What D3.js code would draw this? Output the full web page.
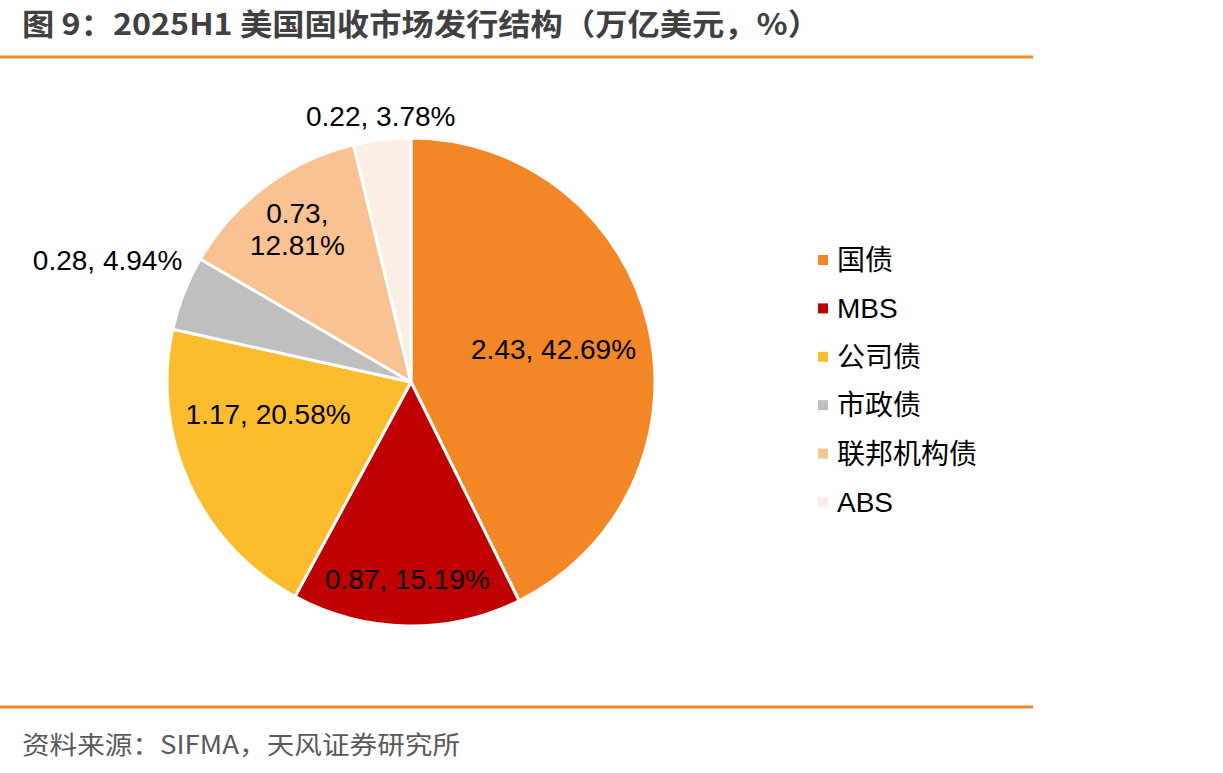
<!DOCTYPE html>
<html>
<head>
<meta charset="utf-8">
<script src="https://cdn.jsdelivr.net/npm/d3@7"></script>
<style>
  body { margin: 0; background: #fff; }
  svg { display: block; }
</style>
</head>
<body>
<div id="chart"></div>
<script>
// data
const categories = ["国债", "MBS", "公司债", "市政债", "联邦机构债", "ABS"];
const amounts = [2.43, 0.87, 1.17, 0.28, 0.73, 0.22];   // 万亿美元
const shares = [42.69, 15.19, 20.58, 4.94, 12.81, 3.78]; // %
const colors = ["#F38625", "#C00000", "#FBBC2D", "#BFBFBF", "#F8C293", "#FDEEE5"];

// label placement: radius as fraction of pie radius, angle shift (deg)
const labelRadius = [0.6, 0.81, 0.6, 1.34, 0.78, 1.095];
const labelShift = [0, 0, 12, 0.5, 0, 0.3];

const width = 1223, height = 773;
const svg = d3.select("#chart").append("svg")
  .attr("width", width).attr("height", height);

// title + rules
svg.append("text")
  .attr("x", 22).attr("y", 35)
  .attr("font-family", "Noto Sans CJK SC")
  .attr("font-weight", "bold")
  .attr("font-size", 30)
  .attr("fill", "#404040")
  .attr("textLength", 798)
  .attr("lengthAdjust", "spacingAndGlyphs")
  .text("图 9：2025H1 美国固收市场发行结构（万亿美元，%）");

[57, 707].forEach(y => {
  svg.append("line")
    .attr("x1", 0).attr("x2", 1033).attr("y1", y).attr("y2", y)
    .attr("stroke", "#F38625").attr("stroke-width", 3);
});

svg.append("text")
  .attr("x", 22).attr("y", 754)
  .attr("font-family", "Noto Sans CJK SC")
  .attr("font-size", 25)
  .attr("fill", "#595959")
  .attr("textLength", 438)
  .attr("lengthAdjust", "spacingAndGlyphs")
  .text("资料来源：SIFMA，天风证券研究所");

// pie
const cx = 411, cy = 382, r = 244;
const pie = d3.pie().sort(null).value(d => d.share);
const data = categories.map((c, i) => ({ name: c, amount: amounts[i], share: shares[i], color: colors[i] }));
const arcs = pie(data);
const arc = d3.arc().innerRadius(0).outerRadius(r);

const g = svg.append("g").attr("transform", `translate(${cx},${cy})`);
g.selectAll("path")
  .data(arcs)
  .join("path")
  .attr("d", arc)
  .attr("fill", d => d.data.color)
  .attr("stroke", "#fff")
  .attr("stroke-width", 3)
  .attr("stroke-linejoin", "round");

const labels = g.selectAll("text.lbl")
  .data(arcs)
  .join("text")
  .attr("class", "lbl")
  .attr("font-family", "Liberation Sans, Arial, sans-serif")
  .attr("font-size", 28)
  .attr("fill", "#000")
  .attr("text-anchor", "middle")
  .attr("transform", (d, i) => {
    const a = (d.startAngle + d.endAngle) / 2 + labelShift[i] * Math.PI / 180;
    const rr = r * labelRadius[i];
    return `translate(${Math.sin(a) * rr},${-Math.cos(a) * rr})`;
  });

labels.each(function (d, i) {
  const t = d3.select(this);
  const a = d.data.amount.toFixed(2);
  const p = d.data.share.toFixed(2) + "%";
  if (d.data.name === "联邦机构债") {
    t.append("tspan").attr("x", 0).attr("dy", "-0.22em").text(a + ",");
    t.append("tspan").attr("x", 0).attr("dy", "1.12em").text(p);
  } else {
    t.append("tspan").attr("x", 0).attr("dy", "0.35em").text(`${a}, ${p}`);
  }
});

// legend
const legend = svg.append("g").attr("transform", "translate(818,260)");
const item = legend.selectAll("g")
  .data(data)
  .join("g")
  .attr("transform", (d, i) => `translate(0,${i * 48.4})`);
item.append("rect")
  .attr("x", 0).attr("y", -5).attr("width", 10).attr("height", 10)
  .attr("fill", d => d.color);
item.append("text")
  .attr("x", 19).attr("y", 0).attr("dy", "0.36em")
  .attr("font-family", "Liberation Sans, Noto Sans CJK SC, sans-serif")
  .attr("font-size", 28)
  .attr("fill", "#000")
  .text(d => d.name);
</script>
</body>
</html>
